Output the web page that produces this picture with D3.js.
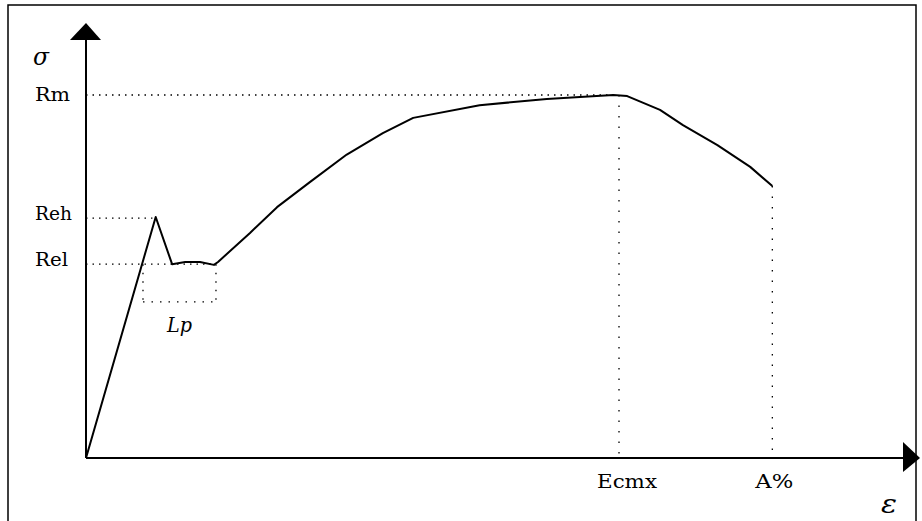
<!DOCTYPE html>
<html>
<head>
<meta charset="utf-8">
<script src="https://cdn.jsdelivr.net/npm/d3@7/dist/d3.min.js"></script>
<style>
  html, body { margin: 0; padding: 0; background: #fff; }
  svg { display: block; }
</style>
</head>
<body>
<svg id="chart" width="922" height="521"></svg>
<script>
// Stress–strain curve (arbitrary units: strain 0..100, stress 0..100 where Rm = 100)
const strain = [0, 8.5, 10.5, 12.1, 13.9, 15.6, 16.1, 20.0, 23.3, 27.3, 31.8, 36.2, 39.9, 48.0, 56.2, 64.3, 66.0, 70.0, 72.8, 77.0, 81.0, 83.7];
const stress = [0, 66.4, 53.4, 54.0, 54.0, 53.2, 54.0, 62.0, 69.1, 76.0, 83.6, 89.5, 93.7, 97.2, 98.9, 100, 99.7, 95.9, 91.7, 86.2, 80.2, 74.9];

// Characteristic levels
const stressLabels = ["Rm", "Reh", "Rel"];
const stressLevels = [100, 66.1, 53.4];
const stressEnds   = [64.3, 8.1, 15.8];   // strain where each dotted guide ends

const strainLabels = ["Ecmx", "A%"];
const strainLevels = [65.0, 83.7];
const strainTops   = [100, 74.9];

// Lp (yield plateau) bracket
const lpStart = 6.95, lpEnd = 15.85, lpBottom = 43.0;

const svg = d3.select("#chart");
const x = d3.scaleLinear().domain([0, 100]).range([86, 906]);
const y = d3.scaleLinear().domain([0, 100]).range([458, 95]);

const serif = "'DejaVu Serif', 'Liberation Serif', serif";

// frame
svg.append("rect").attr("x", 8).attr("y", 5).attr("width", 908).attr("height", 530)
  .attr("fill", "none").attr("stroke", "#000").attr("stroke-width", 1.5);

const dot = "1.5,5";
const g = svg.append("g");

// horizontal guides
stressLevels.forEach((v, i) => {
  g.append("line")
    .attr("x1", x(0)).attr("x2", x(stressEnds[i]))
    .attr("y1", y(v)).attr("y2", y(v))
    .attr("stroke", "#000").attr("stroke-width", 1.3).attr("stroke-dasharray", dot);
});
// vertical guides
strainLevels.forEach((v, i) => {
  g.append("line")
    .attr("x1", x(v)).attr("x2", x(v))
    .attr("y1", y(strainTops[i])).attr("y2", y(0))
    .attr("stroke", "#000").attr("stroke-width", 1.3).attr("stroke-dasharray", "1.5,9");
});
// Lp bracket
[[lpStart, stressLevels[2], lpStart, lpBottom], [lpEnd, stressLevels[2], lpEnd, lpBottom], [lpStart, lpBottom, lpEnd, lpBottom]]
  .forEach(s => {
    g.append("line")
      .attr("x1", x(s[0])).attr("y1", y(s[1])).attr("x2", x(s[2])).attr("y2", y(s[3]))
      .attr("stroke", "#000").attr("stroke-width", 1.3).attr("stroke-dasharray", "1.5,7");
  });

// axes
svg.append("line").attr("x1", x(0)).attr("y1", y(0)).attr("x2", x(0)).attr("y2", 38)
  .attr("stroke", "#000").attr("stroke-width", 2);
svg.append("path").attr("d", `M${x(0)},23 L${x(0) - 16},40 L${x(0) + 15},40 Z`).attr("fill", "#000");
svg.append("line").attr("x1", x(0)).attr("y1", y(0)).attr("x2", 905).attr("y2", y(0))
  .attr("stroke", "#000").attr("stroke-width", 2);
svg.append("path").attr("d", `M903,442 L920,${y(0)} L903,472 Z`).attr("fill", "#000");

// curve
const line = d3.line().curve(d3.curveLinear).x((d, i) => x(strain[i])).y((d, i) => y(stress[i]));
svg.append("path").datum(strain).attr("d", line)
  .attr("fill", "none").attr("stroke", "#000").attr("stroke-width", 2).attr("stroke-linejoin", "round");

// labels
const txt = (s, px, py, size, len, italic) => {
  const t = svg.append("text").attr("x", px).attr("y", py).text(s)
    .attr("font-family", serif).attr("font-size", size).attr("fill", "#000");
  if (len) t.attr("textLength", len).attr("lengthAdjust", "spacingAndGlyphs");
  if (italic) t.attr("font-style", "italic");
  return t;
};
txt("σ", 33, 65, 25, 16, true);
txt(stressLabels[0], 35, y(stressLevels[0]) + 6, 18, 35);
txt(stressLabels[1], 35, y(stressLevels[1]) + 2, 18, 37);
txt(stressLabels[2], 35, y(stressLevels[2]) + 2, 18, 33);
txt(strainLabels[0], x(strainLevels[0]) - 22, 488, 19, 60);
txt(strainLabels[1], x(strainLevels[1]) - 17, 488, 19, 38);
txt("Lp", 167, 332, 20, 25, true);
txt("ε", 881, 513, 26, 16, true);
</script>
</body>
</html>
